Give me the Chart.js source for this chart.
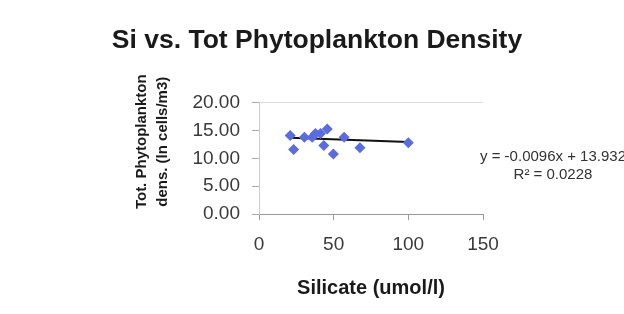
<!DOCTYPE html>
<html>
<head>
  <meta charset="utf-8">
  <title>Si vs. Tot Phytoplankton Density</title>
  <style>
    body { margin: 0; background: #fff; }
  </style>
</head>
<body>
<script src="https://cdn.jsdelivr.net/npm/chart.js@4/dist/chart.umd.min.js"></script>
<canvas id="myChart" width="624" height="314"></canvas>
<script>
  // Silicate (umol/l) vs. density (ln cells/m3)
  var silicate = [20.9, 23.2, 30.4, 35.6, 37.8, 41.2, 45.7, 43.4, 49.8, 57.0, 67.6, 100.0];
  var density  = [14.1, 11.6, 13.8, 13.8, 14.5, 14.5, 15.3, 12.3, 10.8, 13.8, 11.9, 12.8];

  // linear trendline end points
  var trendX = [21, 100];
  var trendY = [13.73, 12.97];

  var xTicks = [0, 50, 100, 150];
  var yTicks = [0, 5, 10, 15, 20];

  var equationLines = ['y = -0.0096x + 13.932', 'R\u00b2 = 0.0228'];

  function toPoints(xs, ys) {
    var pts = [];
    for (var i = 0; i < xs.length; i++) {
      pts.push({x: xs[i], y: ys[i]});
    }
    return pts;
  }

  // draws the trendline equation to the right of the plot
  var equationLabel = {
    id: 'equationLabel',
    afterDraw: function(chart) {
      var ctx = chart.ctx;
      ctx.save();
      ctx.font = '15px "Liberation Sans", Arial, sans-serif';
      ctx.fillStyle = '#333';
      ctx.textAlign = 'center';
      ctx.textBaseline = 'middle';
      ctx.fillText(equationLines[0], 553, 157);
      ctx.fillText(equationLines[1], 553, 175);
      ctx.restore();
    }
  };

  var FONT = '"Liberation Sans", Arial, sans-serif';

  var ctx = document.getElementById('myChart');
  var myChart = new Chart(ctx, {
    type: 'scatter',
    data: {
      datasets: [
        {
          label: 'Density',
          data: toPoints(silicate, density),
          pointStyle: 'rectRot',
          pointRadius: 5.5,
          pointBorderWidth: 0,
          backgroundColor: '#5b6be0',
          borderColor: '#5b6be0'
        },
        {
          label: 'Linear (Density)',
          type: 'line',
          data: toPoints(trendX, trendY),
          borderColor: '#111',
          borderWidth: 2,
          pointRadius: 0,
          fill: false
        }
      ]
    },
    options: {
      responsive: false,
      animation: false,
      layout: {
        padding: {left: 10, right: 0, top: 0, bottom: 0}
      },
      plugins: {
        legend: {display: false},
        tooltip: {enabled: false},
        title: {
          display: true,
          text: 'Si vs. Tot Phytoplankton Density',
          color: '#1a1a1a',
          font: {family: FONT, size: 26.5, weight: 'bold', lineHeight: 1.2},
          padding: {top: 25, bottom: 46}
        }
      },
      scales: {
        x: {
          type: 'linear',
          min: 0,
          max: 150,
          afterBuildTicks: function(axis) {
            axis.ticks = xTicks.map(function(v) { return {value: v}; });
          },
          afterFit: function(axis) { axis.height = 100; },
          grid: {
            drawOnChartArea: false,
            color: 'rgba(0,0,0,0)',
            tickColor: '#999',
            tickLength: 6
          },
          border: {color: '#999'},
          ticks: {
            color: '#3a3a3a',
            padding: 13,
            font: {family: FONT, size: 19}
          },
          title: {
            display: true,
            text: 'Silicate (umol/l)',
            color: '#1a1a1a',
            font: {family: FONT, size: 20, weight: 'bold', lineHeight: 1.2},
            padding: {top: 0, bottom: 14}
          }
        },
        y: {
          type: 'linear',
          min: 0,
          max: 20,
          afterBuildTicks: function(axis) {
            axis.ticks = yTicks.map(function(v) { return {value: v}; });
          },
          afterFit: function(axis) { axis.width = 249; },
          grid: {
            color: function(c) { return c.tick && c.tick.value === 20 ? '#ddd' : 'rgba(0,0,0,0)'; },
            tickColor: '#aaa',
            tickLength: 7
          },
          border: {color: '#ccc'},
          ticks: {
            color: '#3a3a3a',
            padding: 12,
            font: {family: FONT, size: 19},
            callback: function(v) { return v.toFixed(2); }
          },
          title: {
            display: true,
            // leading spaces lift the title a little above the plot centre, as in the original
            text: ['        Tot. Phytoplankton', '        dens. (ln cells/m3)'],
            color: '#1a1a1a',
            font: {family: FONT, size: 15, weight: 'bold', lineHeight: 1.35},
            padding: {top: 122, bottom: 0}
          }
        },
        // empty right-hand axis only to reserve room for the equation text
        spacer: {
          type: 'linear',
          position: 'right',
          display: true,
          afterFit: function(axis) { axis.width = 141; },
          grid: {drawOnChartArea: false, drawTicks: false},
          border: {display: false},
          ticks: {display: false}
        }
      }
    },
    plugins: [equationLabel]
  });
</script>
</body>
</html>
